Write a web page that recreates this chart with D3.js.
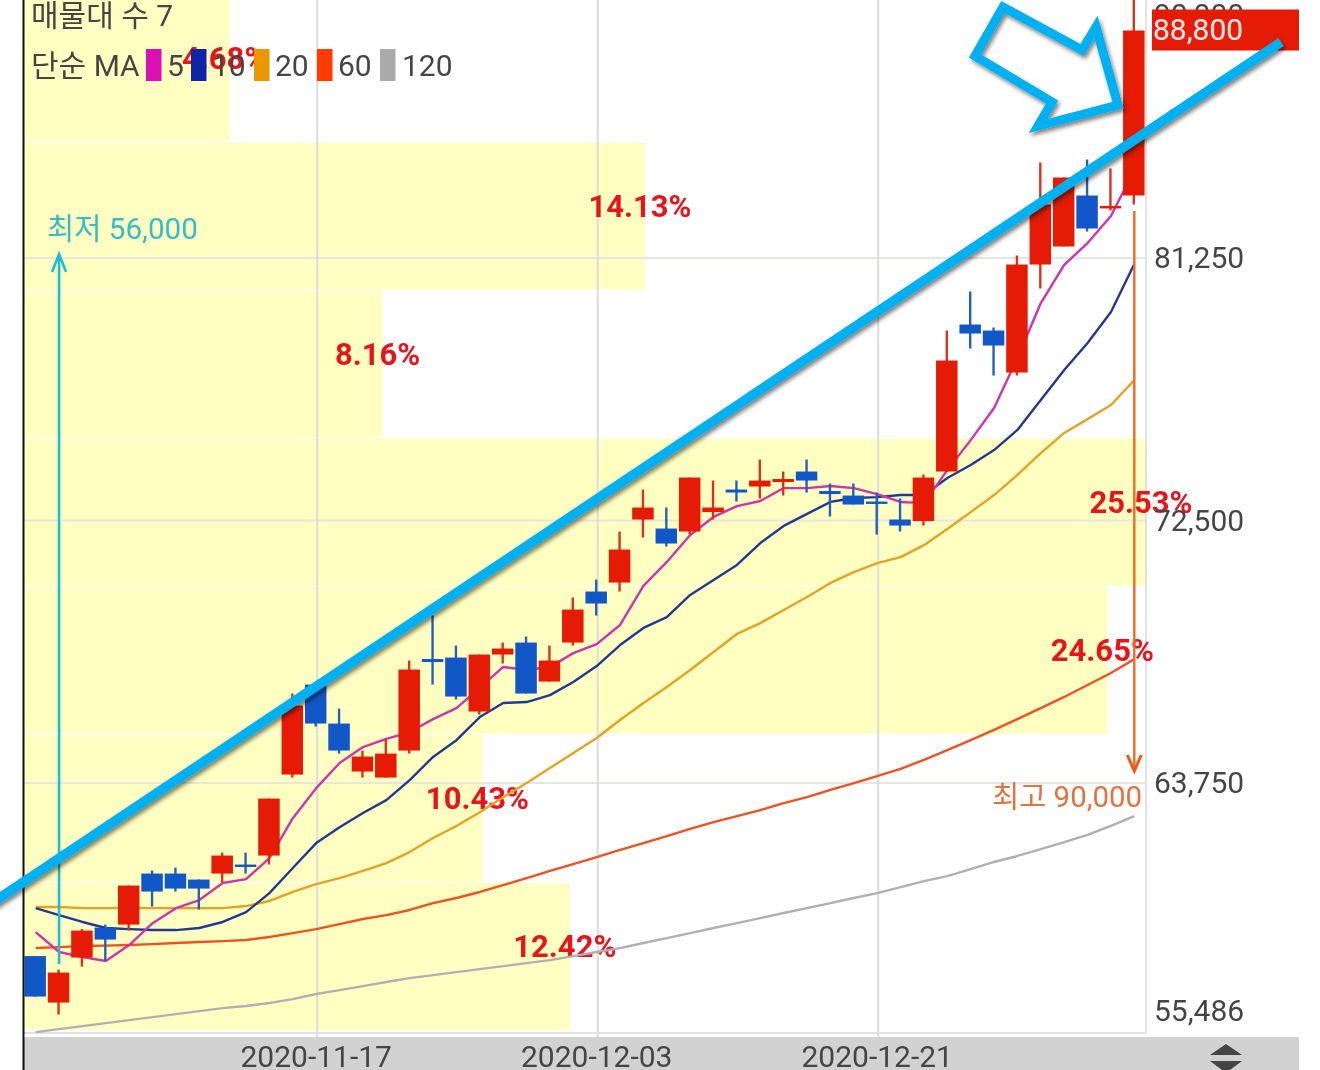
<!DOCTYPE html>
<html lang="ko">
<head>
<meta charset="utf-8">
<script src="https://cdn.jsdelivr.net/npm/d3@7"></script>
<style>
html,body{margin:0;padding:0;background:#fff;overflow:hidden}
svg{display:block}
text{font-family:Roboto,"Noto Sans CJK KR",sans-serif}
</style>
</head>
<body>
<svg id="chart" width="1320" height="1070"></svg>
<script>
const dates = ["2020-10-30","2020-11-02","2020-11-03","2020-11-04","2020-11-05","2020-11-06","2020-11-09","2020-11-10","2020-11-11","2020-11-12","2020-11-13","2020-11-16","2020-11-17","2020-11-18","2020-11-19","2020-11-20","2020-11-23","2020-11-24","2020-11-25","2020-11-26","2020-11-27","2020-11-30","2020-12-01","2020-12-02","2020-12-03","2020-12-04","2020-12-07","2020-12-08","2020-12-09","2020-12-10","2020-12-11","2020-12-14","2020-12-15","2020-12-16","2020-12-17","2020-12-18","2020-12-21","2020-12-22","2020-12-23","2020-12-24","2020-12-28","2020-12-29","2020-12-30","2021-01-04","2021-01-05","2021-01-06","2021-01-07","2021-01-08"];
const open  = [57950,56400,57900,58900,59000,60700,60700,60500,60700,61000,61300,64000,67000,65700,64100,63900,64800,67850,67900,66100,68000,68400,67100,68400,70100,70400,72500,72200,72100,72750,73500,73600,73750,74100,73450,73300,73100,72500,72450,74100,79000,78800,77400,81000,81600,83300,82900,83300];
const high  = [57950,57500,58850,59000,60300,60800,60900,60500,61400,61400,63200,66700,67000,66200,64800,65200,67800,69300,68300,68000,68400,68600,68300,69900,70500,72100,73500,72900,73900,73800,73800,74500,74100,74500,73700,73700,73400,73200,74000,78800,80100,78900,81300,84400,83900,84500,84200,90000];
const low   = [56600,56000,57600,57800,58800,59600,60100,59500,60400,60700,61000,63900,65600,64700,63900,63900,64700,67000,66500,66000,67700,66700,67100,68300,69300,70100,71900,71600,72000,72500,73100,73200,73300,73400,72600,73000,72000,72100,72300,74100,78200,77300,77300,80200,81600,82100,82800,83000];
const close = [56600,57400,58800,58500,60300,60100,60200,60200,61300,60950,63200,66300,65700,64800,64600,64700,67500,67750,66600,68000,68200,66700,67800,69500,69700,71500,72900,71700,73900,72900,73400,73800,73850,73800,73350,73000,73050,72300,73900,77800,78700,78300,81000,83000,83900,82200,82950,88800];
const ma5   = [58780,58120,57950,57820,58350,59080,59580,59850,60420,60550,61250,62580,63580,64420,64950,65220,65450,65880,66250,66920,67620,67520,67620,68080,68380,69020,70320,71120,72020,72620,72980,73150,73580,73580,73650,73580,73380,73120,73080,74180,75180,76250,77920,79750,81020,81750,82650,84180];
const ma10  = [59580,59350,59120,58920,58880,58850,58850,58920,59120,59450,60080,60920,61750,62280,62750,63180,63850,64620,65180,65950,66420,66450,66680,67120,67650,68350,68920,69280,70020,70520,71020,71750,72320,72720,73120,73250,73280,73350,73350,73920,74350,74850,75520,76520,77520,78420,79450,81050];
const ma20  = [59620,59620,59580,59580,59580,59580,59580,59580,59580,59650,59820,60120,60380,60580,60820,61080,61450,61920,62320,62780,63280,63750,64250,64750,65250,65850,66420,66950,67520,68120,68720,69080,69520,69950,70420,70780,71080,71280,71680,72220,72780,73350,74020,74750,75420,75880,76350,77180];
const ma60  = [58250,58280,58320,58330,58350,58380,58420,58450,58480,58520,58620,58750,58880,59050,59220,59350,59520,59750,59920,60120,60350,60580,60820,61050,61280,61520,61750,61980,62220,62450,62650,62850,63080,63280,63520,63750,63980,64220,64520,64850,65180,65520,65880,66250,66620,67020,67420,67880];
const ma120 = [55450,55550,55650,55750,55850,55950,56050,56150,56250,56320,56420,56550,56720,56850,56980,57120,57250,57350,57450,57550,57650,57750,57850,57980,58120,58250,58420,58580,58750,58920,59080,59250,59420,59580,59750,59920,60080,60280,60480,60650,60880,61120,61320,61550,61780,62020,62320,62650];
const bandEdges = [55486,60420,65354,70288,75222,80156,85090,90024];
const bandShares = [12.42,10.43,24.65,25.53,8.16,14.13,4.68];
const priceTicks = [55486,63750,72500,81250,90000];
const dateTicks = ["2020-11-17","2020-12-03","2020-12-21"];
const maPeriods = ["5","10","20","60","120"];
const maColors = ["#cc35ab","#1f3a90","#e5a225","#ef5220","#b0b0b0"];
const swatchColors = ["#d811b0","#1024a8","#ea9700","#ff3b00","#ababab"];
const lastPrice = 88800, lowMark = "최저 56,000", highMark = "최고 90,000";

const RED="#e51b05", BLUE="#1257c8", TXT="#454545", CYAN="#00b0f0";
const svg = d3.select("#chart");
const L=24,R=1146,B=1033;
const x = d3.scaleBand().domain(dates).range([L,R]);
const cx = d => x(d)+x.bandwidth()/2;
const y = d3.scaleLinear().domain([55486,90000]).range([1031,-4.5]);
const shareX = d3.scaleLinear().domain([0,25.53]).range([L,R]);

const defs = svg.append("defs");
defs.append("clipPath").attr("id","plot").append("rect").attr("x",L).attr("y",-10).attr("width",R-L).attr("height",B+10);
const sh = defs.append("filter").attr("id","shadow").attr("x","-10%").attr("y","-10%").attr("width","120%").attr("height","120%");
sh.append("feDropShadow").attr("dx",2).attr("dy",3).attr("stdDeviation",2).attr("flood-color","#000").attr("flood-opacity",.5);

const chart = svg.append("g").style("filter","blur(0.7px)");

// volume-profile bands
const bands = bandShares.map((s,i)=>({s,lo:bandEdges[i],hi:bandEdges[i+1]}));
chart.append("g").selectAll("rect").data(bands).join("rect")
  .attr("x",L).attr("y",d=>y(d.hi))
  .attr("width",d=>shareX(d.s)-L).attr("height",d=>y(d.lo)-y(d.hi)-1.2)
  .attr("fill","#ffffc2");

// grid
const grid = chart.append("g").attr("stroke","#e6e6e0").attr("stroke-width",2);
grid.selectAll("line.h").data(priceTicks.slice(1,4)).join("line").attr("class","h")
  .attr("x1",L).attr("x2",R).attr("y1",d=>y(d)).attr("y2",d=>y(d));
grid.selectAll("line.v").data(dateTicks).join("line").attr("class","v")
  .attr("x1",d=>cx(d)+1).attr("x2",d=>cx(d)+1).attr("y1",0).attr("y2",1037).attr("stroke","#dcdcdc");
chart.append("path").attr("d",`M${R},0V${B}H${L}`).attr("fill","none").attr("stroke","#e2e2e2").attr("stroke-width",2);

// share labels
chart.append("g").selectAll("text").data(bands).join("text")
  .attr("x",d=>shareX(d.s)-5).attr("y",d=>(y(d.hi)+y(d.lo))/2)
  .attr("text-anchor","middle").attr("font-size",31).attr("font-weight",700).attr("fill","#e8141c")
  .text(d=>d.s.toFixed(2)+"%");

const plot = chart.append("g").attr("clip-path","url(#plot)");

// moving averages
const lineGen = d3.line().x((v,i)=>cx(dates[i])).y(v=>y(v));
[ma120,ma60,ma20,ma10,ma5].forEach((s,k)=>{
  plot.append("path").datum(s).attr("d",lineGen).attr("fill","none")
    .attr("stroke",maColors[4-k]).attr("stroke-width",2.4).attr("stroke-linejoin","round");
});

// candles
const candles = dates.map((d,i)=>({d,o:open[i],h:high[i],l:low[i],c:close[i]}));
const cg = plot.append("g").attr("transform","translate(0,-1)").selectAll("g").data(candles).join("g");
cg.append("line").attr("x1",d=>cx(d.d)-.5).attr("x2",d=>cx(d.d)-.5).attr("y1",d=>y(d.h)).attr("y2",d=>y(d.l))
  .attr("stroke",d=>d.c>=d.o?"#d8331f":"#2462b8").attr("stroke-width",2.4);
cg.append("rect").attr("x",d=>cx(d.d)-.5-x.bandwidth()*.46).attr("width",x.bandwidth()*.92)
  .attr("y",d=>y(Math.max(d.o,d.c))).attr("height",d=>Math.max(y(Math.min(d.o,d.c))-y(Math.max(d.o,d.c)),2.4))
  .attr("fill",d=>d.c>=d.o?RED:BLUE);

// low / high markers
const lowX = cx(dates[low.indexOf(d3.min(low))]);
const highX = cx(dates[high.indexOf(d3.max(high))]);
chart.append("path").attr("d",`M${lowX},964V254M${lowX-7},272L${lowX},254L${lowX+7},272`)
  .attr("fill","none").attr("stroke","#1fbdd2").attr("stroke-width",2.6);
chart.append("text").attr("x",47).attr("y",239).attr("font-size",29.6).attr("fill","#35bccb").text(lowMark);
chart.append("path").attr("d",`M${highX},211V771`).attr("fill","none").attr("stroke","#ee6a26").attr("stroke-width",2.4);
chart.append("path").attr("d",`M${highX-7},755L${highX},771L${highX+7},755`).attr("fill","none").attr("stroke","#f05a14").attr("stroke-width",3);
chart.append("text").attr("x",1142).attr("y",807).attr("text-anchor","end").attr("font-size",29.4).attr("fill","#e2723f").text(highMark);

// right axis
const axR = chart.append("g").attr("transform",`translate(${R},0)`)
  .call(d3.axisRight(y).tickValues(priceTicks).tickFormat(d3.format(",")).tickSize(0).tickPadding(8));
axR.select(".domain").remove();
axR.selectAll("text").attr("font-size",30).attr("fill",TXT).style("font-family",'Roboto,sans-serif')
  .attr("dy",d=> d===55486 ? "-0.35em" : d===90000 ? "0.95em" : "0.33em");

// last price box
chart.append("rect").attr("x",1152).attr("width",147).attr("y",y(lastPrice)-22).attr("height",41).attr("fill",RED);
chart.append("text").attr("x",1153).attr("y",y(lastPrice)+8).attr("font-size",30).attr("fill","#ffeaea").text(d3.format(",")(lastPrice));

// bottom axis
chart.append("rect").attr("x",L).attr("y",1037).attr("width",1299-L).attr("height",33).attr("fill","#d2d2d2");
const axB = chart.append("g").attr("transform","translate(0,1037)")
  .call(d3.axisBottom(x).tickValues(dateTicks).tickSize(0).tickPadding(9));
axB.select(".domain").remove();
axB.selectAll("text").attr("font-size",30).attr("fill",TXT).style("font-family",'Roboto,sans-serif');
axB.selectAll(".tick").attr("transform",d=>`translate(${cx(d)},0)`);

// left border of the screenshot
chart.append("line").attr("x1",L-.5).attr("x2",L-.5).attr("y1",0).attr("y2",1070).attr("stroke","#111").attr("stroke-width",2);

// sort icon
chart.append("path").attr("d","M1226,1044L1242,1055H1210ZM1210,1061H1242L1226,1073Z").attr("fill","#454545");

// legend
const leg = chart.append("g").attr("font-size",30).attr("fill",TXT);
leg.append("text").attr("x",31).attr("y",26).text("매물대 수 7");
leg.append("text").attr("x",31).attr("y",76).text("단순 MA");
const swX=[146,191,254,317,380], lbX=[167,212,275,338,402];
maPeriods.forEach((p,i)=>{ leg.append("text").attr("x",lbX[i]).attr("y",76).text(p); });
maPeriods.forEach((p,i)=>{ leg.append("rect").attr("x",swX[i]).attr("y",49).attr("width",15.5).attr("height",32).attr("fill",swatchColors[i]); });

// hand-drawn annotations on top of the screenshot
const anno = svg.append("g").attr("filter","url(#shadow)").attr("fill","none").attr("stroke",CYAN);
anno.append("line").attr("x1",-8).attr("y1",903).attr("x2",1281).attr("y2",42).attr("stroke-width",9.5);
anno.append("path").attr("d","M1003,7L975,56L1052,102L1038,126L1118,105L1096,27L1082,50Z")
  .attr("stroke-width",9).attr("stroke-linejoin","miter").attr("stroke-miterlimit",8);
</script>
</body>
</html>
